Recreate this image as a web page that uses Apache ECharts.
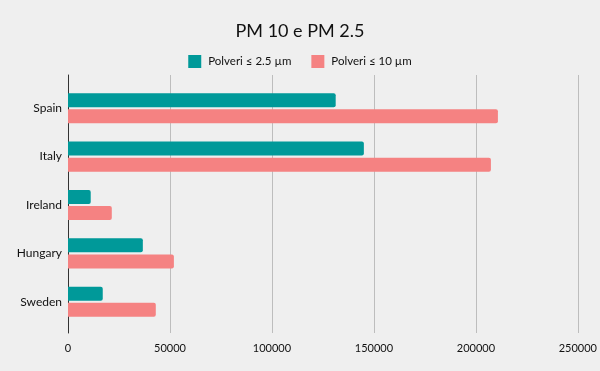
<!DOCTYPE html>
<html><head><meta charset="utf-8">
<script src="https://cdn.jsdelivr.net/npm/echarts@6/dist/echarts.min.js"></script>
<style>html,body{margin:0;padding:0;background:#efefef}#c{width:600px;height:371px}</style>
</head><body><div id="c"></div>
<script>
const categories = ['Spain', 'Italy', 'Ireland', 'Hungary', 'Sweden'];
const pm25 = [130200, 143900, 11050, 36400, 16900];
const pm10 = [209100, 205700, 21300, 51500, 42700];
const seriesNames = ['Polveri \u2264 2.5 \u00b5m', 'Polveri \u2264 10 \u00b5m'];
const xTicks = [0, 50000, 100000, 150000, 200000, 250000];

const font = 'Lato, "Open Sans", sans-serif';
const chart = echarts.init(document.getElementById('c'));
chart.setOption({
  backgroundColor: '#efefef',
  animation: false,
  textStyle: { fontFamily: font },
  title: { text: 'PM 10 e PM 2.5', left: 'center', top: 17,
    textStyle: { fontFamily: font, fontSize: 18, fontWeight: 'normal', color: '#111' } },
  legend: { top: 50, left: 'center', itemWidth: 13, itemHeight: 13, itemGap: 20,
    icon: 'rect', textStyle: { fontFamily: font, fontSize: 11.5, color: '#111', padding: [0, 0, 0, 2] },
    data: seriesNames },
  grid: [
    { left: 68, right: 18, top: 75, bottom: 38 },
    { left: 68, right: 18, top: 84, bottom: 45 }
  ],
  xAxis: [
    { gridIndex: 0, type: 'value', min: xTicks[0], max: xTicks[xTicks.length - 1], interval: 50000,
      axisLine: { show: false }, axisTick: { show: false },
      splitLine: { show: true, lineStyle: { color: '#bdbdbd', width: 1 } },
      axisLabel: { fontFamily: font, fontSize: 11, color: '#111', margin: 10,
        formatter: v => String(v) } },
    { gridIndex: 1, type: 'value', min: xTicks[0], max: xTicks[xTicks.length - 1],
      show: false, splitLine: { show: false } }
  ],
  yAxis: [
    { gridIndex: 0, type: 'category', data: categories, inverse: true,
      axisLine: { show: true, lineStyle: { color: '#333', width: 1 } },
      axisTick: { show: false }, axisLabel: { show: false }, splitLine: { show: false } },
    { gridIndex: 1, type: 'category', data: categories, inverse: true,
      axisLine: { show: false }, axisTick: { show: false },
      axisLabel: { fontFamily: font, fontSize: 12, color: '#111', margin: 6 } }
  ],
  series: [
    { name: seriesNames[0], type: 'bar', xAxisIndex: 1, yAxisIndex: 1, data: pm25,
      barWidth: 14, barGap: '15%', itemStyle: { color: '#009999', borderRadius: [0, 2, 2, 0] } },
    { name: seriesNames[1], type: 'bar', xAxisIndex: 1, yAxisIndex: 1, data: pm10,
      barWidth: 14, barGap: '15%', itemStyle: { color: '#f58282', borderRadius: [0, 2, 2, 0] } }
  ]
});
</script></body></html>
